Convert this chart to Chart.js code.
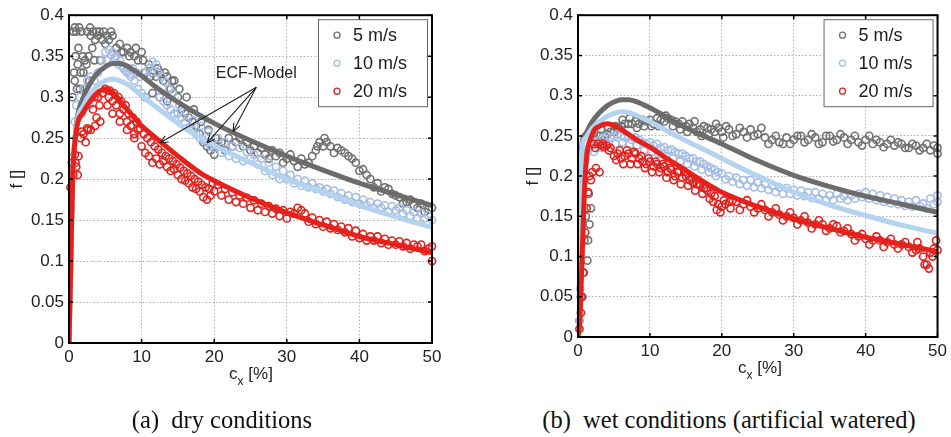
<!DOCTYPE html>
<html>
<head>
<meta charset="utf-8">
<script src="https://cdn.jsdelivr.net/npm/chart.js@4/dist/chart.umd.min.js"></script>
<style>
  body { margin: 0; background: #fff; width: 951px; height: 437px; position: relative; overflow: hidden;
         font-family: "Liberation Sans", Arial, sans-serif; color: #222; }
  .box { position: absolute; top: 0; height: 395px; }
  #boxA { left: 0; width: 480px; }
  #boxB { left: 509px; width: 442px; }
  .xt { position: absolute; font-size: 17px; transform: translateX(-50%); white-space: nowrap; }
  .xt sub { font-size: 12px; vertical-align: -6px; }
  .cap { position: absolute; top: 406px; font-family: "Liberation Serif", "Times New Roman", serif;
         font-size: 24.5px; transform: translateX(-50%); white-space: nowrap; color: #111; }
</style>
</head>
<body>
<div class="box" id="boxA"><canvas id="dry" width="480" height="395"></canvas></div>
<div class="box" id="boxB"><canvas id="wet" width="442" height="395"></canvas></div>
<div class="xt" style="left:251px;top:364px">c<sub>x</sub> [%]</div>
<div class="xt" style="left:760px;top:358px">c<sub>x</sub> [%]</div>
<div class="cap" style="left:222px">(a)&nbsp; dry conditions</div>
<div class="cap" style="left:729px">(b)&nbsp; wet conditions (artificial watered)</div>
<script>
// series labels and tick labels
const speeds = ['5 m/s', '10 m/s', '20 m/s'];
const fTicks = ['0', '0.05', '0.1', '0.15', '0.2', '0.25', '0.3', '0.35', '0.4'];
const cxTicks = [0, 10, 20, 30, 40, 50];

// ECF-Model curves (shared slip grid)
const modelCx = [0, 0.25, 0.5, 1, 2, 3, 4, 5, 6, 7, 8, 10, 12, 15, 18, 20, 25, 30, 35, 40, 45, 50];
const dryModel5  = [0, 0.1, 0.2, 0.265, 0.3, 0.318, 0.33, 0.337, 0.341, 0.341, 0.338, 0.326, 0.312, 0.294, 0.278, 0.268, 0.247, 0.228, 0.211, 0.195, 0.181, 0.168];
const dryModel10 = [0, 0.1, 0.2, 0.262, 0.29, 0.305, 0.314, 0.32, 0.322, 0.32, 0.316, 0.302, 0.288, 0.268, 0.251, 0.241, 0.22, 0.2, 0.184, 0.168, 0.154, 0.141];
const dryModel20 = [0, 0.1, 0.2, 0.258, 0.282, 0.296, 0.306, 0.31, 0.306, 0.296, 0.285, 0.265, 0.25, 0.228, 0.208, 0.198, 0.177, 0.159, 0.144, 0.13, 0.12, 0.11];
const wetModel5  = [0, 0.12, 0.235, 0.252, 0.268, 0.279, 0.287, 0.292, 0.295, 0.295, 0.293, 0.285, 0.275, 0.26, 0.248, 0.24, 0.219, 0.201, 0.187, 0.175, 0.165, 0.155];
const wetModel10 = [0, 0.11, 0.23, 0.247, 0.26, 0.268, 0.274, 0.278, 0.28, 0.279, 0.276, 0.268, 0.258, 0.244, 0.231, 0.222, 0.2, 0.18, 0.164, 0.151, 0.139, 0.129];
const wetModel20 = [0, 0.02, 0.08, 0.2, 0.252, 0.262, 0.265, 0.263, 0.258, 0.252, 0.246, 0.236, 0.224, 0.207, 0.19, 0.18, 0.162, 0.147, 0.135, 0.124, 0.115, 0.106];

// measured friction, dry road  [cx %, f]
const dry5 = [[0.5,0.3],[0.6,0.38],[0.8,0.32],[1,0.38],[1.2,0.34],[1.5,0.31],[1.7,0.38],[2,0.33],[2.2,0.345],[2.5,0.38],[2.8,0.32],[3,0.375],[3.3,0.38],[3.6,0.37],[4,0.375],[4.3,0.345],[4.6,0.37],[5,0.365],[5.5,0.37],[6,0.375],[6.5,0.36],[7,0.365],[7.5,0.355],[8,0.36],[8.5,0.355],[9,0.35],[9.5,0.345],[10,0.355],[10.5,0.33],[11,0.34],[11.5,0.33],[12,0.325],[12.5,0.33],[13,0.32],[13.5,0.325],[14,0.31],[14.5,0.32],[15,0.3],[15.5,0.285],[16,0.28],[16.5,0.275],[17,0.27],[17.5,0.265],[18,0.255],[18.5,0.245],[19,0.24],[19.5,0.235],[20,0.23],[21,0.245],[22,0.25],[23,0.245],[24,0.24],[25,0.235],[26,0.232],[27,0.23],[28,0.235],[29,0.232],[30,0.225],[31,0.222],[32,0.225],[33,0.22],[34,0.235],[34.5,0.245],[35,0.24],[35.5,0.245],[36,0.24],[37,0.238],[38,0.232],[39,0.225],[40,0.21],[41,0.205],[42,0.19],[43,0.185],[44,0.188],[45,0.18],[46,0.17],[47,0.175],[48,0.165],[49,0.16],[50,0.165]];
const dry5More = [[0.7,0.33],[0.8,0.385],[0.9,0.35],[1.1,0.31],[1.3,0.36],[1.4,0.385],[1.6,0.33],[1.9,0.35],[2.1,0.31],[2.4,0.34],[2.7,0.35],[2.9,0.385],[3.2,0.36],[3.5,0.345],[3.8,0.38],[4.2,0.38],[4.8,0.38],[5.2,0.375],[5.8,0.38],[7.2,0.355],[8.3,0.35],[9.2,0.36],[10.2,0.345],[10.5,0.3],[11.2,0.325],[11.5,0.305],[12.2,0.335],[12.5,0.3],[13.2,0.33],[13.5,0.295],[14.2,0.32],[15.2,0.31],[16.2,0.3],[17.2,0.285],[18.2,0.27],[19.2,0.26],[20.2,0.25],[20.6,0.24],[21.5,0.235],[22.5,0.24],[23.5,0.25],[24.5,0.245],[25.5,0.24],[26.5,0.238],[27.5,0.225],[28.5,0.228],[29.5,0.22],[30.5,0.23],[31.5,0.215],[32.5,0.218],[33.5,0.228],[34.2,0.24],[35.2,0.25],[36.5,0.232],[37.5,0.235],[38.5,0.228],[39.5,0.22],[40.5,0.212],[41.5,0.2],[42.5,0.195],[43.5,0.19],[44.5,0.182],[45.5,0.178],[46.5,0.172],[47.5,0.168],[48.5,0.17],[49.5,0.163]];
const dry10 = [[0.5,0.22],[0.8,0.27],[1,0.29],[1.5,0.3],[2,0.31],[2.5,0.32],[3,0.325],[3.5,0.32],[4,0.33],[4.5,0.345],[5,0.355],[5.5,0.358],[6,0.355],[6.5,0.35],[7,0.345],[7.5,0.335],[8,0.33],[8.5,0.325],[9,0.32],[9.5,0.31],[10,0.305],[10.5,0.3],[11,0.335],[11.5,0.343],[12,0.34],[12.5,0.3],[13,0.295],[13.5,0.29],[14,0.285],[14.5,0.28],[15,0.28],[15.5,0.275],[16,0.27],[16.5,0.262],[17,0.26],[17.5,0.255],[18,0.25],[18.5,0.248],[19,0.245],[19.5,0.24],[20,0.238],[21,0.232],[22,0.228],[23,0.225],[24,0.222],[25,0.225],[26,0.218],[27,0.21],[28,0.205],[29,0.2],[30,0.2],[31,0.195],[32,0.192],[33,0.19],[34,0.188],[35,0.185],[36,0.182],[37,0.178],[38,0.175],[39,0.172],[40,0.17],[41,0.168],[42,0.165],[43,0.165],[44,0.16],[45,0.162],[46,0.158],[47,0.155],[48,0.152],[49,0.152],[50,0.15]];
const dry10More = [[1.8,0.28],[2.8,0.29],[3.8,0.3],[5.2,0.345],[5.8,0.352],[6.3,0.348],[6.8,0.34],[7.3,0.338],[7.8,0.332],[8.3,0.328],[8.8,0.335],[9.3,0.33],[9.8,0.325],[10.3,0.33],[10.8,0.325],[11.3,0.33],[12.3,0.33],[12.8,0.325],[13.3,0.318],[13.8,0.31],[14.3,0.305],[15.2,0.29],[16.2,0.282],[17.2,0.272],[18.2,0.265],[19.2,0.258],[20.5,0.25],[21.5,0.245],[22.5,0.24],[23.5,0.238],[24.5,0.233],[25.5,0.23],[26.5,0.225],[27.5,0.22],[28.5,0.215],[29.5,0.21],[30.5,0.205],[31.5,0.2],[32.5,0.198],[33.5,0.195],[34.5,0.19],[35.5,0.188],[36.5,0.186],[37.5,0.183],[38.5,0.18],[39.5,0.178],[40.5,0.175],[41.5,0.172],[42.5,0.17],[43.5,0.168],[44.5,0.167],[45.5,0.165],[46.5,0.162],[47.5,0.16],[48.5,0.158],[49.5,0.156]];
const dry20 = [[0.2,0.19],[0.4,0.22],[0.6,0.205],[0.8,0.23],[1,0.215],[1.3,0.228],[1.6,0.25],[2,0.255],[2.3,0.245],[2.6,0.26],[3,0.26],[3.3,0.285],[3.6,0.265],[4,0.3],[4.3,0.27],[4.6,0.305],[5,0.31],[5.3,0.29],[5.6,0.308],[6,0.295],[6.5,0.29],[7,0.28],[7.5,0.285],[8,0.27],[8.5,0.265],[9,0.255],[9.5,0.26],[10,0.24],[10.5,0.232],[11,0.228],[11.5,0.22],[12,0.225],[12.5,0.218],[13,0.222],[13.5,0.215],[14,0.21],[14.5,0.212],[15,0.205],[15.5,0.2],[16,0.198],[16.5,0.195],[17,0.19],[17.5,0.188],[18,0.185],[18.5,0.178],[19,0.175],[19.5,0.18],[20,0.185],[21,0.18],[22,0.175],[23,0.172],[24,0.17],[25,0.165],[26,0.162],[27,0.16],[28,0.158],[29,0.155],[30,0.152],[31,0.158],[32,0.162],[33,0.148],[34,0.145],[35,0.142],[36,0.14],[37,0.138],[38,0.135],[39,0.13],[40,0.128],[41,0.125],[42,0.125],[43,0.122],[44,0.12],[45,0.12],[46,0.118],[47,0.115],[48,0.118],[49,0.112],[50,0.1]];
const dry20More = [[0.9,0.22],[1.2,0.205],[1.8,0.258],[2.5,0.262],[3.5,0.3],[3.8,0.275],[4.2,0.29],[5.5,0.3],[6,0.28],[6.2,0.305],[6.8,0.3],[7,0.27],[7.2,0.295],[7.8,0.29],[8,0.26],[8.2,0.28],[8.8,0.275],[9,0.25],[9.3,0.27],[9.8,0.262],[10.3,0.255],[10.8,0.25],[11.3,0.245],[11.8,0.24],[12.3,0.236],[12.8,0.232],[13.3,0.228],[13.8,0.225],[14.3,0.222],[14.8,0.218],[15.3,0.214],[15.8,0.21],[16.3,0.207],[16.8,0.204],[17.3,0.2],[17.8,0.197],[18.3,0.193],[18.8,0.19],[19.3,0.188],[19.8,0.195],[20.5,0.193],[21.5,0.188],[22.5,0.184],[23.5,0.18],[24.5,0.177],[25.5,0.174],[26.5,0.17],[27.5,0.167],[28.5,0.164],[29.5,0.162],[30.5,0.16],[31.5,0.165],[32.5,0.158],[33.5,0.153],[34.5,0.15],[35.5,0.148],[36.5,0.145],[37.5,0.142],[38.5,0.14],[39.5,0.137],[40.5,0.133],[41.5,0.13],[42.5,0.13],[43.5,0.127],[44.5,0.125],[45.5,0.124],[46.5,0.122],[47.5,0.12],[48.5,0.12],[49.5,0.115],[50,0.118]];

// measured friction, wet road  [cx %, f]
const wet5 = [[0.2,0.02],[0.4,0.05],[0.5,0.23],[0.7,0.08],[0.9,0.12],[1.1,0.15],[1.3,0.095],[1.4,0.12],[1.5,0.178],[1.6,0.14],[1.8,0.16],[2,0.24],[2.5,0.245],[3,0.25],[3.5,0.25],[4,0.252],[4.5,0.255],[5,0.255],[5.5,0.26],[6,0.262],[6.5,0.265],[7,0.265],[7.5,0.265],[8,0.268],[8.5,0.265],[9,0.27],[9.5,0.268],[10,0.27],[10.5,0.265],[11,0.272],[11.5,0.27],[12,0.268],[12.5,0.272],[13,0.27],[13.5,0.268],[14,0.265],[14.5,0.268],[15,0.262],[15.5,0.265],[16,0.26],[16.5,0.255],[17,0.258],[17.5,0.262],[18,0.26],[18.5,0.258],[19,0.255],[19.5,0.26],[20,0.255],[21,0.258],[22,0.252],[23,0.255],[24,0.258],[25,0.252],[26,0.248],[27,0.245],[28,0.242],[29,0.248],[30,0.245],[31,0.25],[32,0.245],[33,0.248],[34,0.242],[35,0.25],[36,0.245],[37,0.248],[38,0.245],[39,0.242],[40,0.245],[41,0.24],[42,0.242],[43,0.24],[44,0.238],[45,0.24],[46,0.235],[47,0.238],[48,0.235],[49,0.232],[50,0.235]];
const wet5More = [[2.2,0.25],[3.2,0.258],[4.2,0.26],[5.2,0.262],[6.2,0.27],[7.2,0.272],[8.2,0.26],[9.2,0.262],[10.2,0.262],[11.2,0.262],[12.2,0.275],[13.2,0.262],[14.2,0.258],[15.2,0.255],[16.2,0.268],[17.2,0.25],[18.2,0.252],[19.2,0.265],[20.2,0.248],[20.6,0.262],[21.5,0.25],[22.5,0.26],[23.5,0.248],[24.5,0.25],[25.5,0.26],[26.5,0.24],[27.5,0.25],[28.5,0.24],[29.5,0.24],[30.5,0.25],[31.5,0.242],[32.5,0.252],[33.5,0.24],[34.5,0.25],[35.5,0.243],[36.5,0.252],[37.5,0.24],[38.5,0.25],[39.5,0.238],[40.5,0.25],[41.5,0.245],[42.5,0.236],[43.5,0.245],[44.5,0.242],[45.5,0.235],[46.5,0.24],[47.5,0.232],[48.5,0.24],[49.5,0.238],[50,0.228]];
const wet10 = [[0.2,0.02],[0.3,0.06],[0.4,0.1],[0.5,0.15],[0.6,0.19],[0.8,0.2],[1,0.22],[1.3,0.23],[1.6,0.235],[2,0.24],[2.5,0.242],[3,0.245],[3.5,0.248],[4,0.25],[4.5,0.248],[5,0.25],[5.5,0.252],[6,0.25],[6.5,0.248],[7,0.25],[7.5,0.245],[8,0.248],[8.5,0.245],[9,0.242],[9.5,0.24],[10,0.242],[10.5,0.238],[11,0.24],[11.5,0.235],[12,0.236],[12.5,0.232],[13,0.233],[13.5,0.23],[14,0.228],[14.5,0.228],[15,0.225],[15.5,0.222],[16,0.222],[16.5,0.218],[17,0.218],[17.5,0.215],[18,0.212],[18.5,0.21],[19,0.208],[19.5,0.205],[20,0.203],[21,0.2],[22,0.198],[23,0.195],[24,0.195],[25,0.192],[26,0.19],[27,0.188],[28,0.186],[29,0.185],[30,0.183],[31,0.182],[32,0.18],[33,0.18],[34,0.178],[35,0.176],[36,0.178],[37,0.175],[38,0.176],[39,0.178],[40,0.18],[41,0.178],[42,0.176],[43,0.174],[44,0.172],[45,0.17],[46,0.168],[47,0.17],[48,0.166],[49,0.172],[50,0.176]];
const wet10More = [[2.2,0.23],[3.2,0.235],[4.2,0.24],[5.2,0.24],[6.2,0.242],[7.2,0.24],[8.2,0.238],[9.2,0.232],[10.2,0.23],[11.2,0.228],[12.2,0.225],[13.2,0.222],[14.2,0.218],[15.2,0.215],[16.2,0.212],[17.2,0.208],[18.2,0.205],[19.2,0.2],[20.5,0.196],[21.5,0.193],[22.5,0.19],[23.5,0.188],[24.5,0.186],[25.5,0.185],[26.5,0.183],[27.5,0.18],[28.5,0.178],[29.5,0.178],[30.5,0.176],[31.5,0.175],[32.5,0.173],[33.5,0.172],[34.5,0.17],[35.5,0.17],[36.5,0.172],[37.5,0.17],[38.5,0.172],[39.5,0.174],[40.5,0.172],[41.5,0.17],[42.5,0.168],[43.5,0.166],[44.5,0.165],[45.5,0.163],[46.5,0.162],[47.5,0.163],[48.5,0.16],[49.5,0.165],[50,0.168]];
const wet20 = [[0.2,0.01],[0.4,0.03],[0.6,0.05],[0.8,0.08],[1,0.13],[1.2,0.16],[1.4,0.18],[1.6,0.2],[1.8,0.195],[2,0.205],[2.2,0.24],[2.5,0.21],[2.8,0.24],[3,0.205],[3.3,0.238],[3.6,0.236],[4,0.238],[4.5,0.235],[5,0.225],[5.5,0.228],[6,0.222],[6.5,0.225],[7,0.228],[7.5,0.222],[8,0.228],[8.5,0.222],[9,0.218],[9.5,0.215],[10,0.218],[10.5,0.212],[11,0.215],[11.5,0.21],[12,0.212],[12.5,0.205],[13,0.208],[13.5,0.2],[14,0.205],[14.5,0.198],[15,0.2],[15.5,0.195],[16,0.192],[16.5,0.19],[17,0.188],[17.5,0.185],[18,0.182],[18.5,0.178],[19,0.175],[19.5,0.165],[20,0.162],[20.5,0.165],[21,0.168],[21.5,0.17],[22,0.168],[23,0.165],[24,0.162],[25,0.16],[26,0.158],[27,0.155],[28,0.152],[29,0.15],[30,0.148],[31,0.145],[32,0.142],[33,0.14],[34,0.14],[35,0.135],[36,0.138],[37,0.132],[38,0.128],[39,0.125],[40,0.122],[41,0.12],[42,0.12],[43,0.118],[44,0.115],[45,0.115],[46,0.112],[47,0.108],[47.5,0.11],[48,0.1],[48.5,0.09],[49,0.105],[49.5,0.11],[50,0.108]];
const wet20More = [[2.4,0.235],[3.5,0.24],[4.3,0.232],[5.3,0.22],[5.8,0.232],[6.3,0.215],[6.8,0.232],[7.3,0.215],[7.8,0.23],[8.3,0.215],[8.8,0.225],[9.3,0.21],[9.8,0.222],[10.3,0.205],[10.8,0.218],[11.3,0.205],[11.8,0.215],[12.3,0.198],[12.8,0.21],[13.3,0.195],[13.8,0.205],[14.3,0.19],[14.8,0.205],[15.3,0.188],[15.8,0.198],[16.3,0.182],[16.8,0.19],[17.3,0.178],[17.8,0.185],[18.3,0.172],[18.8,0.168],[19.3,0.158],[19.8,0.155],[20.3,0.17],[21.2,0.16],[22.5,0.158],[23.5,0.17],[24.5,0.155],[25.5,0.165],[26.5,0.15],[27.5,0.16],[28.5,0.145],[29.5,0.155],[30.5,0.14],[31.5,0.15],[32.5,0.135],[33.5,0.145],[34.5,0.132],[35.5,0.14],[36.5,0.13],[37.5,0.135],[38.5,0.12],[39.5,0.128],[40.5,0.115],[41.5,0.125],[42.5,0.112],[43.5,0.122],[44.5,0.11],[45.5,0.118],[46.5,0.105],[47.2,0.118],[48.2,0.09],[48.8,0.085],[49.3,0.1],[49.8,0.12]];

// "ECF-Model" note on the dry plot: label, arrow start, arrow tips (data space)
const ecfLabelAt = [25.8, 0.329];
const ecfFrom = [25.8, 0.312];
const ecfTips = [[12.5, 0.244], [19, 0.244], [22.6, 0.258]];

const ptColors = ['#707070', '#a5bce3', '#e2211d'];
const lineColors = ['#6c6c6c', '#b4d3ef', '#e6201b'];
const FONT = '"Liberation Sans", Arial, sans-serif';

function pts(pairs) { return pairs.map(p => ({x: p[0], y: p[1]})); }
function curve(ys) { return modelCx.map((x, i) => ({x: x, y: ys[i]})); }

// frame, inward ticks, boxed legend and the arrow note
const decor = {
  id: 'decor',
  afterDatasetsDraw(chart, args, o) {
    const {ctx, chartArea: a, scales: {x, y}} = chart;
    ctx.save();
    if (o.note) {
      ctx.strokeStyle = '#222'; ctx.lineWidth = 1.1;
      const sx = x.getPixelForValue(o.note.from[0]), sy = y.getPixelForValue(o.note.from[1]);
      o.note.tips.forEach(t => {
        const tx = x.getPixelForValue(t[0]), ty = y.getPixelForValue(t[1]);
        const ang = Math.atan2(sy - ty, sx - tx);
        ctx.beginPath(); ctx.moveTo(sx, sy); ctx.lineTo(tx, ty);
        [0.4, -0.4].forEach(d => {
          ctx.moveTo(tx, ty);
          ctx.lineTo(tx + 9 * Math.cos(ang + d), ty + 9 * Math.sin(ang + d));
        });
        ctx.stroke();
      });
      ctx.fillStyle = '#222'; ctx.font = '16px ' + FONT;
      ctx.textAlign = 'center'; ctx.textBaseline = 'middle';
      ctx.fillText(o.note.text, x.getPixelForValue(o.note.at[0]), y.getPixelForValue(o.note.at[1]));
    }
    // legend box
    const bw = 109, bh = 87, bx = a.right - 5 - bw, by = a.top + 4;
    ctx.fillStyle = '#fff'; ctx.fillRect(bx, by, bw, bh);
    ctx.strokeStyle = '#666'; ctx.lineWidth = 1; ctx.strokeRect(bx + 0.5, by + 0.5, bw, bh);
    ctx.font = '18px ' + FONT; ctx.textAlign = 'left'; ctx.textBaseline = 'middle';
    speeds.forEach((s, i) => {
      const ry = by + 16 + i * 28;
      ctx.strokeStyle = ptColors[i]; ctx.lineWidth = 1.3;
      ctx.beginPath(); ctx.arc(bx + 19, ry, 3, 0, Math.PI * 2); ctx.stroke();
      ctx.fillStyle = '#1a1a1a'; ctx.fillText(s, bx + 35, ry + 1);
    });
    // axes box with inward ticks
    ctx.strokeStyle = '#000'; ctx.lineWidth = 2;
    ctx.strokeRect(a.left, a.top, a.width, a.height);
    ctx.lineWidth = 1.5; ctx.beginPath();
    cxTicks.forEach(v => {
      const px = x.getPixelForValue(v);
      ctx.moveTo(px, a.bottom); ctx.lineTo(px, a.bottom - 4);
      ctx.moveTo(px, a.top); ctx.lineTo(px, a.top + 4);
    });
    fTicks.forEach(v => {
      const py = y.getPixelForValue(+v);
      ctx.moveTo(a.left, py); ctx.lineTo(a.left + 4, py);
      ctx.moveTo(a.right, py); ctx.lineTo(a.right - 4, py);
    });
    ctx.stroke();
    ctx.restore();
  }
};

function makeChart(id, meas, models, o) {
  const sets = [];
  meas.forEach((m, i) => sets.push({
    type: 'scatter', label: speeds[i], data: pts(m), order: 10 - i,
    pointStyle: 'circle', pointRadius: 3.6, pointBorderWidth: 1.6,
    borderColor: ptColors[i], backgroundColor: 'rgba(0,0,0,0)', clip: false
  }));
  models.forEach((m, i) => sets.push({
    type: 'line', label: 'ECF ' + speeds[i], data: curve(m), order: 5 - i,
    borderColor: lineColors[i], borderWidth: 5, pointRadius: 0, fill: false,
    cubicInterpolationMode: 'monotone'
  }));
  return new Chart(document.getElementById(id), {
    type: 'scatter',
    data: {datasets: sets},
    options: {
      responsive: false, animation: false, events: [],
      layout: {padding: {left: 0, right: o.padRight, top: 15, bottom: 0}},
      plugins: {legend: {display: false}, tooltip: {enabled: false}, decor: {note: o.note}},
      scales: {
        x: {
          type: 'linear', min: 0, max: 50,
          afterBuildTicks: s => { s.ticks = cxTicks.map(v => ({value: v})); },
          afterFit: s => { s.height = o.xh; },
          ticks: {color: '#222', font: {family: FONT, size: 17}, padding: 4, maxRotation: 0},
          grid: {color: '#b0b0b0', lineWidth: 1, drawTicks: false},
          border: {display: false, dash: [1.5, 2]}
        },
        y: {
          type: 'linear', min: 0, max: 0.4,
          afterBuildTicks: s => { s.ticks = fTicks.map(v => ({value: +v})); },
          afterFit: s => { s.width = 69; },
          ticks: {color: '#222', font: {family: FONT, size: 17}, padding: 5,
                  callback: (v, i) => fTicks[i]},
          grid: {color: '#b0b0b0', lineWidth: 1, drawTicks: false},
          border: {display: false, dash: [1.5, 2]},
          title: {display: true, text: 'f []', color: '#222', font: {family: FONT, size: 17},
                  padding: {top: o.titlePad, bottom: 0}}
        }
      }
    },
    plugins: [decor]
  });
}

makeChart('dry', [dry5.concat(dry5More), dry10.concat(dry10More), dry20.concat(dry20More)],
  [dryModel5, dryModel10, dryModel20],
  {padRight: 48, xh: 52, titlePad: 7,
   note: {text: 'ECF-Model', at: ecfLabelAt, from: ecfFrom, tips: ecfTips}});
makeChart('wet', [wet5.concat(wet5More), wet10.concat(wet10More), wet20.concat(wet20More)],
  [wetModel5, wetModel10, wetModel20],
  {padRight: 9, xh: 58, titlePad: 14, note: null});
</script>
</body>
</html>
